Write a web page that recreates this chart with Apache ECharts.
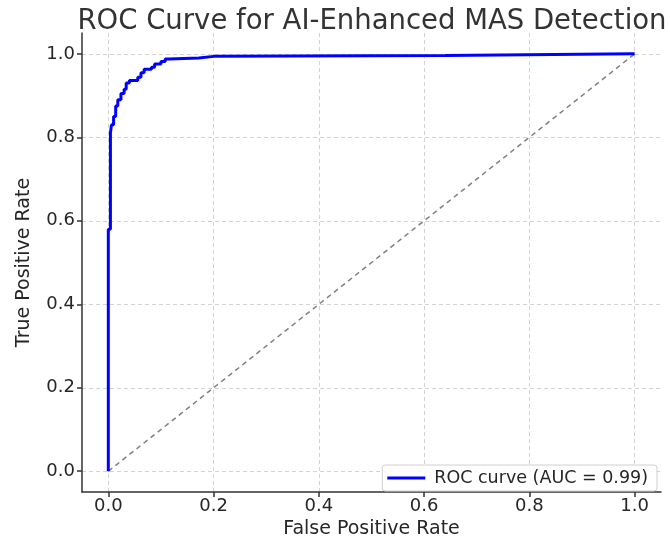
<!DOCTYPE html>
<html>
<head>
<meta charset="utf-8">
<script src="https://cdn.jsdelivr.net/npm/echarts@6/dist/echarts.min.js"></script>
<style>
  html, body { margin: 0; padding: 0; background: #fff; }
  #chart { width: 670px; height: 544px; }
</style>
</head>
<body>
<div id="chart"></div>
<script>
// ROC curve (step points)
const fpr = [0, 0, 0.004, 0.004, 0.006, 0.006, 0.01, 0.01, 0.014, 0.014, 0.018, 0.018,
  0.024, 0.024, 0.03, 0.03, 0.034, 0.034, 0.04, 0.04, 0.056, 0.056, 0.062, 0.062,
  0.068, 0.068, 0.082, 0.082, 0.088, 0.088, 0.1, 0.1, 0.108, 0.108, 0.116, 0.116,
  0.172, 0.172, 0.2, 0.2, 0.64, 0.64, 1]
const tpr = [0, 0.58, 0.58, 0.81, 0.81, 0.83, 0.83, 0.85, 0.85, 0.875, 0.875, 0.89,
  0.89, 0.905, 0.905, 0.915, 0.915, 0.93, 0.93, 0.936, 0.936, 0.944, 0.944, 0.955,
  0.955, 0.963, 0.963, 0.968, 0.968, 0.976, 0.976, 0.982, 0.982, 0.988, 0.988, 0.99,
  0.99, 0.994, 0.994, 0.996, 0.996, 1, 1]
const chanceLine = [[0, 0], [1, 1]]
const tickValues = [0, 0.2, 0.4, 0.6, 0.8, 1.0]
const rocName = 'ROC curve (AUC = 0.99)'

const font = 'DejaVu Sans'
const textColor = '#262626'

const chart = echarts.init(document.getElementById('chart'))

const axisCommon = {
  type: 'value',
  min: -0.05,
  max: 1.05,
  nameLocation: 'middle',
  nameTextStyle: { fontFamily: font, fontSize: 19, color: textColor },
  axisLine: { show: true, onZero: false, lineStyle: { color: '#333', width: 1.5 } },
  axisTick: {
    show: true,
    length: 5,
    customValues: tickValues,
    lineStyle: { color: '#333', width: 1.5 },
  },
  axisLabel: {
    customValues: tickValues,
    fontFamily: font,
    fontSize: 18,
    color: textColor,
    formatter: v => v.toFixed(1),
  },
  splitLine: {
    show: true,
    lineStyle: { color: '#d3d3d3', type: [4, 3], width: 1 },
  },
}

const option = {
  backgroundColor: '#fff',
  animation: false,
  title: {
    text: 'ROC Curve for AI-Enhanced MAS Detection',
    left: 367,
    textAlign: 'center',
    top: 3,
    textStyle: { fontFamily: font, fontSize: 27.5, fontWeight: 'normal', color: '#333' },
  },
  grid: { left: 82, right: 9, top: 33, bottom: 47 },
  legend: {
    data: [{ name: rocName, icon: 'rect' }],
    right: 13,
    bottom: 53,
    itemWidth: 38,
    itemHeight: 3,
    itemGap: 10,
    padding: [4, 9, 4, 5],
    borderColor: '#d0d0d0',
    borderWidth: 1,
    borderRadius: 3,
    backgroundColor: 'rgba(255,255,255,0.85)',
    textStyle: { fontFamily: font, fontSize: 17.5, color: textColor, padding: [0, 0, 0, 4] },
  },
  xAxis: {
    ...axisCommon,
    name: 'False Positive Rate',
    nameGap: 24,
    axisLabel: { ...axisCommon.axisLabel, margin: 5 },
  },
  yAxis: {
    ...axisCommon,
    name: 'True Positive Rate',
    nameGap: 48,
    axisLabel: { ...axisCommon.axisLabel, margin: 7 },
  },
  series: [
    {
      name: 'Chance',
      type: 'line',
      data: chanceLine,
      showSymbol: false,
      silent: true,
      lineStyle: { color: '#808080', width: 1.5, type: [5, 4] },
    },
    {
      name: rocName,
      type: 'line',
      data: fpr.map((x, i) => [x, tpr[i]]),
      showSymbol: false,
      itemStyle: { color: '#0000ff' },
      lineStyle: { color: '#0000ff', width: 3 },
    },
  ],
}

chart.setOption(option)
</script>
</body>
</html>
